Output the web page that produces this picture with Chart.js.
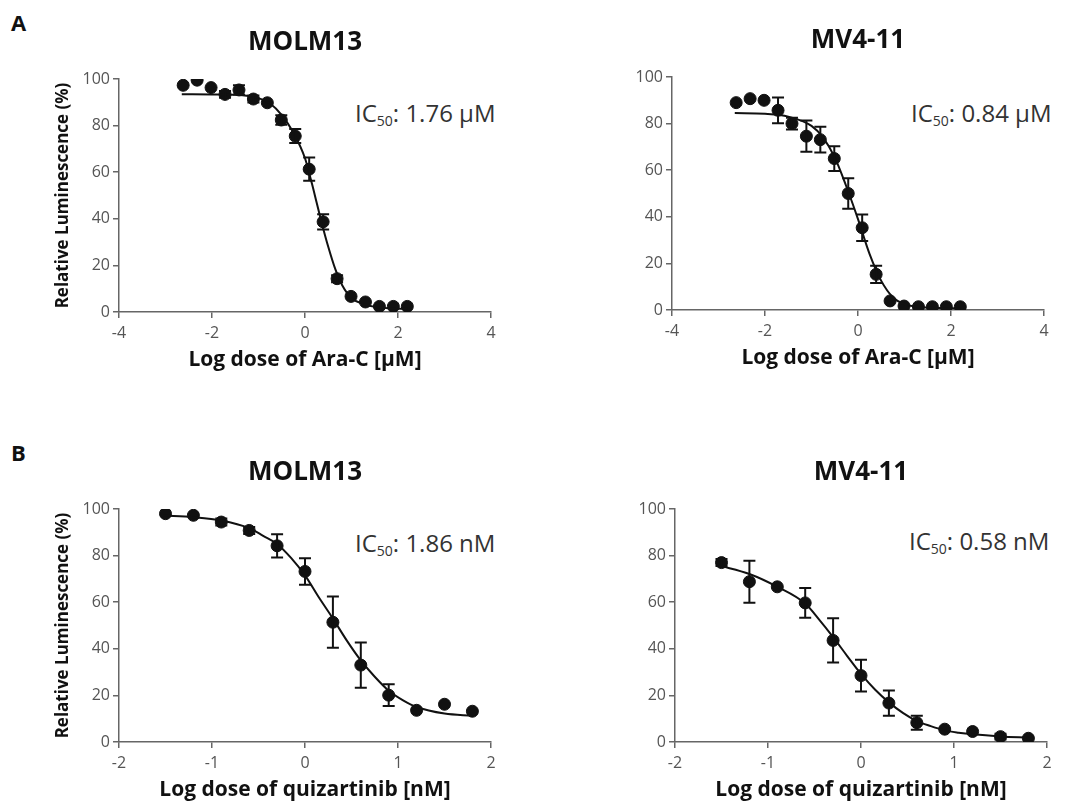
<!DOCTYPE html>
<html>
<head>
<meta charset="utf-8">
<script src="https://cdn.jsdelivr.net/npm/chart.js@4.4.1/dist/chart.umd.min.js"></script>
<style>
  html, body { margin: 0; padding: 0; background: #fff; overflow: hidden; }
  body { width: 1088px; height: 803px; position: relative; font-family: "Open Sans", sans-serif; }
  canvas { position: absolute; }
  .tag { position: absolute; font-weight: bold; font-size: 22px; line-height: 1; color: #111; }
  .ic50 { position: absolute; font-size: 24px; line-height: 1; color: #333; white-space: nowrap; }
  .ic50 sub { font-size: 14px; line-height: 0; vertical-align: -4px; }
</style>
</head>
<body>
<div class="tag" style="left:11px; top:11px">A</div>
<div class="tag" style="left:11px; top:441px">B</div>
<div class="ic50" style="left:355px; top:101px">IC<sub>50</sub>: 1.76 μM</div>
<div class="ic50" style="left:911px; top:101px">IC<sub>50</sub>: 0.84 μM</div>
<div class="ic50" style="left:355px; top:531px">IC<sub>50</sub>: 1.86 nM</div>
<div class="ic50" style="left:909px; top:529px">IC<sub>50</sub>: 0.58 nM</div>

<canvas id="molmAra" width="530" height="375" style="left:0px; top:0px"></canvas>
<canvas id="mvAra" width="530" height="375" style="left:553px; top:-2px"></canvas>
<canvas id="molmQuiz" width="530" height="375" style="left:0px; top:430px"></canvas>
<canvas id="mvQuiz" width="530" height="375" style="left:556px; top:430px"></canvas>

<script>
// log doses (Ara-C, uM) and (quizartinib, nM)
const doseA = [-2.62, -2.32, -2.02, -1.72, -1.42, -1.11, -0.81, -0.51, -0.21, 0.09, 0.39, 0.69, 0.99, 1.30, 1.60, 1.90, 2.20];
const doseB = [-1.5, -1.2, -0.9, -0.6, -0.3, 0, 0.3, 0.6, 0.9, 1.2, 1.5, 1.8];

// measured means and error bars
const molmAraMean = [97.3, 99.5, 96.3, 93.4, 95.3, 91.4, 89.8, 82.4, 75.5, 61.3, 38.7, 14.3, 6.7, 4.3, 2.4, 2.4, 2.4];
const molmAraErr  = [0, 0, 0, 1.5, 2, 1.5, 0, 2, 3, 5, 3.3, 1.5, 0, 0, 0, 0, 0];
const mvAraMean   = [89.0, 90.7, 90.0, 85.7, 80.0, 74.6, 73.1, 65.0, 50.0, 35.3, 15.3, 3.9, 1.7, 1.4, 1.4, 1.4, 1.4];
const mvAraErr    = [0, 0, 0, 5.5, 2.5, 6.7, 5.5, 5.3, 6.5, 5.7, 3.7, 0, 0, 0, 0, 0, 0];
const molmQuizMean = [98.0, 97.3, 94.4, 90.8, 84.2, 73.2, 51.4, 33.0, 20.1, 13.6, 16.2, 13.2];
const molmQuizErr  = [0, 0, 1.5, 1.5, 5, 5.7, 11, 9.7, 4.7, 0, 0, 0];
const mvQuizMean   = [77.0, 68.8, 66.6, 59.7, 43.6, 28.5, 16.7, 8.3, 5.5, 4.5, 2.3, 1.6];
const mvQuizErr    = [1.5, 9, 0, 6.4, 9.5, 6.8, 5.4, 3, 0, 0, 1.2, 0];

// fitted curves
const fitDoseA1 = [-2.65, -2.0, -1.5, -1.0, -0.75, -0.5, -0.25, 0, 0.15, 0.25, 0.35, 0.5, 0.65, 0.8, 1.0, 1.25, 1.5, 1.8, 2.2];
const molmAraFit = [93.5, 93.4, 93.2, 91.8, 89.5, 84.5, 77, 66, 55, 47, 39, 28, 18.5, 11.5, 6, 3.5, 2.2, 1.6, 1.4];
const fitDoseA2 = [-2.65, -2.0, -1.5, -1.0, -0.75, -0.5, -0.25, 0, 0.25, 0.5, 0.75, 1.0, 1.25, 1.5, 1.8, 2.2];
const mvAraFit  = [84.5, 84.2, 83, 79, 74, 65.5, 53, 39, 24, 12.5, 5.5, 2.5, 1.4, 1.0, 0.8, 0.7];
const fitDoseB = [-1.52, -1.2, -0.9, -0.6, -0.45, -0.3, -0.15, 0, 0.15, 0.3, 0.45, 0.6, 0.75, 0.9, 1.05, 1.2, 1.5, 1.8];
const molmQuizFit = [97.2, 96.5, 95.1, 91.8, 88.5, 85, 79, 71.5, 62, 53, 43.5, 35, 28, 22, 18, 15, 12.2, 11.3];
const mvQuizFit   = [75.7, 72.1, 66.6, 59.4, 52.5, 45, 37, 29.2, 22.5, 17, 12.5, 9, 6.8, 5, 4, 3.3, 2.4, 1.9];

const yTicks = [0, 20, 40, 60, 80, 100];

Chart.defaults.font.family = '"Open Sans", sans-serif';

const toPoints = (xs, ys) => xs.map((x, i) => ({ x: x, y: ys[i] }));

// vertical error bars with caps
const errorBars = {
  id: 'errorBars',
  afterDatasetsDraw(chart) {
    const { ctx, scales: { x, y } } = chart;
    chart.data.datasets.forEach(ds => {
      if (!ds.errors) return;
      ctx.save();
      ctx.strokeStyle = '#111';
      ctx.lineWidth = 2;
      ds.data.forEach((p, i) => {
        const e = ds.errors[i];
        if (!e) return;
        const px = x.getPixelForValue(p.x);
        const top = y.getPixelForValue(p.y + e);
        const bot = y.getPixelForValue(p.y - e);
        ctx.beginPath();
        ctx.moveTo(px, top); ctx.lineTo(px, bot);
        ctx.moveTo(px - 6, top); ctx.lineTo(px + 6, top);
        ctx.moveTo(px - 6, bot); ctx.lineTo(px + 6, bot);
        ctx.stroke();
      });
      ctx.restore();
    });
  }
};

function makePanel(id, title, doses, mean, err, fitX, fitY, xMin, xMax, xStep, xTitle, showYTitle) {
  const ctx = document.getElementById(id).getContext('2d');
  return new Chart(ctx, {
    type: 'scatter',
    data: {
      datasets: [{
        type: 'line',
        data: toPoints(fitX, fitY),
        borderColor: '#111',
        borderWidth: 2,
        pointRadius: 0,
        cubicInterpolationMode: 'monotone',
        fill: false
      }, {
        data: toPoints(doses, mean),
        errors: err,
        pointRadius: 6,
        pointBackgroundColor: '#111',
        pointBorderColor: '#111',
        pointBorderWidth: 1
      }]
    },
    options: {
      responsive: false,
      animation: false,
      layout: { padding: { left: 0, right: 39, top: 0, bottom: 0 } },
      plugins: {
        legend: { display: false },
        tooltip: { enabled: false },
        title: {
          display: true,
          text: title,
          fullSize: false,
          color: '#111',
          font: { size: 26, weight: 'bold' },
          padding: { top: 27.4, bottom: 20.4 }
        }
      },
      scales: {
        x: {
          type: 'linear',
          min: xMin, max: xMax,
          afterFit: s => { s.height = 63; },
          ticks: { stepSize: xStep, color: '#555', font: { size: 16 }, padding: 6 },
          grid: { drawOnChartArea: false, drawTicks: true, tickLength: 6, color: '#666', lineWidth: 1.5 },
          border: { color: '#666', width: 1.5 },
          title: { display: true, text: xTitle, color: '#111', font: { size: 21, weight: 'bold' }, padding: { top: 0, bottom: 2.4 } }
        },
        y: {
          min: 0, max: 100,
          afterFit: s => { s.width = 119; },
          afterBuildTicks: s => { s.ticks = yTicks.map(v => ({ value: v })); },
          ticks: { color: '#555', font: { size: 16 }, padding: 3 },
          grid: { drawOnChartArea: false, drawTicks: true, tickLength: 6, color: '#666', lineWidth: 1.5 },
          border: { color: '#666', width: 1.5 },
          title: { display: showYTitle, text: 'Relative Luminescence (%)', color: '#111', font: { size: 17, weight: 'bold' }, padding: { top: 52.8, bottom: 0 } }
        }
      }
    },
    plugins: [errorBars]
  });
}

makePanel('molmAra', 'MOLM13', doseA, molmAraMean, molmAraErr, fitDoseA1, molmAraFit, -4, 4, 2, 'Log dose of Ara-C [μM]', true);
makePanel('mvAra', 'MV4-11', doseA, mvAraMean, mvAraErr, fitDoseA2, mvAraFit, -4, 4, 2, 'Log dose of Ara-C [μM]', false);
makePanel('molmQuiz', 'MOLM13', doseB, molmQuizMean, molmQuizErr, fitDoseB, molmQuizFit, -2, 2, 1, 'Log dose of quizartinib [nM]', true);
makePanel('mvQuiz', 'MV4-11', doseB, mvQuizMean, mvQuizErr, fitDoseB, mvQuizFit, -2, 2, 1, 'Log dose of quizartinib [nM]', false);
</script>
</body>
</html>
